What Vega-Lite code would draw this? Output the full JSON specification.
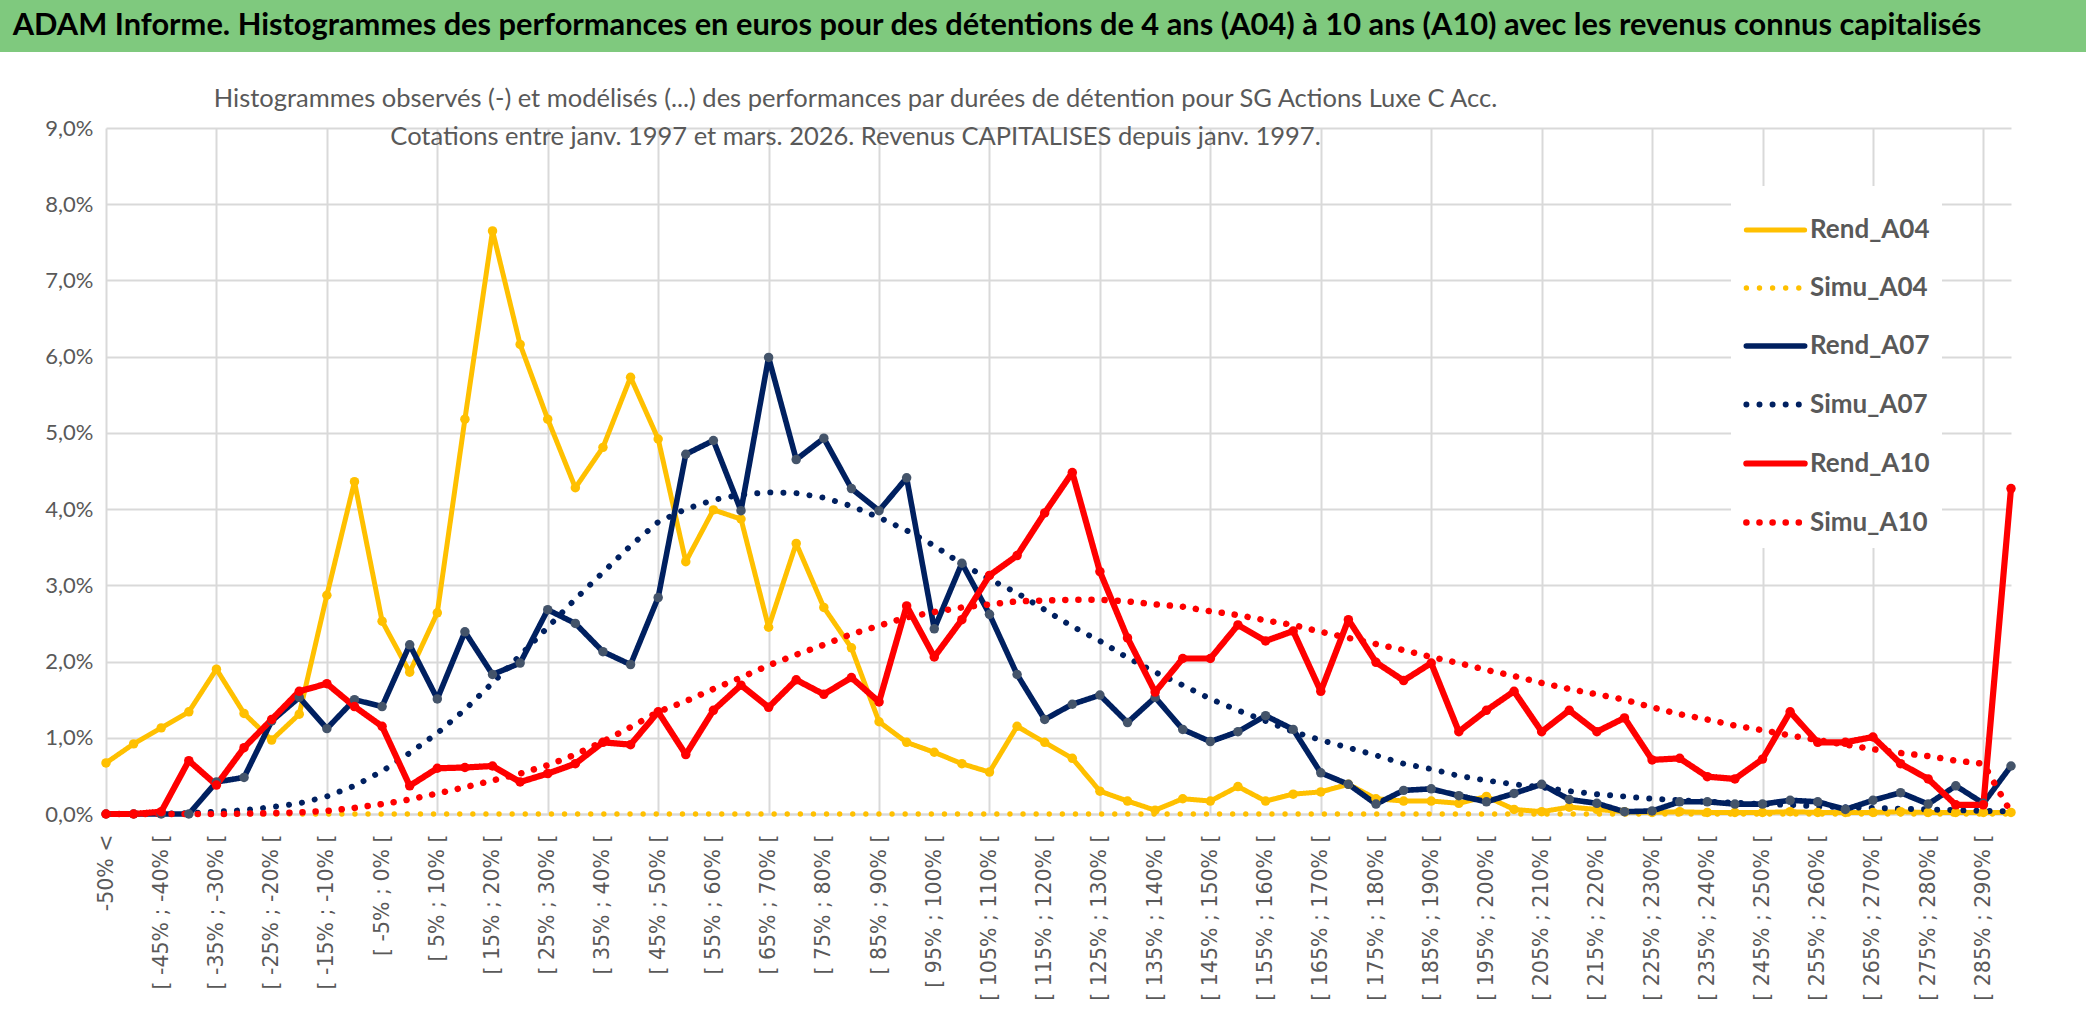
{
  "$schema": "https://vega.github.io/schema/vega-lite/v6.json",
  "background": "white",
  "padding": 0,
  "spacing": 34,
  "config": {"view": {"stroke": null}},
  "vconcat": [
    {
      "width": 1980,
      "height": 52,
      "data": {"values": [{"titre": "ADAM Informe. Histogrammes des performances en euros pour des détentions de 4 ans (A04) à 10 ans (A10) avec les revenus connus capitalisés"}]},
      "layer": [
        {"mark": {"type": "rect", "color": "#7FC97E"}, "encoding": {"x": {"value": -106}, "x2": {"value": 1980}, "y": {"value": 0}, "y2": {"value": 52}}},
        {"mark": {"type": "text", "font": "Lato", "fontWeight": "bold", "fontSize": 30.8, "color": "#000000", "dx": -99}, "encoding": {"text": {"field": "titre"}}}
      ]
    },
    {
      "width": 1905,
      "height": 686,
      "title": {
        "text": ["Histogrammes observés (-) et modélisés (...) des performances par durées de détention pour SG Actions Luxe C Acc.", "Cotations entre janv. 1997 et mars. 2026. Revenus CAPITALISES depuis janv. 1997."],
        "font": "Lato", "fontSize": 25.5, "fontWeight": "normal", "color": "#595959",
        "lineHeight": 38, "anchor": "middle", "frame": "group", "dx": -203, "offset": -33
      },
      "data": {"values": [
        {"cat": "-50% <", "Rend_A04": 0.67, "Simu_A04": 0, "Rend_A07": 0, "Simu_A07": 0, "Rend_A10": 0, "Simu_A10": 0},
        {"cat": "[ -50% ; -45% [", "Rend_A04": 0.92, "Simu_A04": 0, "Rend_A07": 0, "Simu_A07": 0, "Rend_A10": 0, "Simu_A10": 0},
        {"cat": "[ -45% ; -40% [", "Rend_A04": 1.13, "Simu_A04": 0, "Rend_A07": 0, "Simu_A07": 0.005, "Rend_A10": 0.03, "Simu_A10": 0},
        {"cat": "[ -40% ; -35% [", "Rend_A04": 1.34, "Simu_A04": 0, "Rend_A07": 0, "Simu_A07": 0.01, "Rend_A10": 0.70, "Simu_A10": 0},
        {"cat": "[ -35% ; -30% [", "Rend_A04": 1.90, "Simu_A04": 0, "Rend_A07": 0.42, "Simu_A07": 0.03, "Rend_A10": 0.38, "Simu_A10": 0},
        {"cat": "[ -30% ; -25% [", "Rend_A04": 1.32, "Simu_A04": 0, "Rend_A07": 0.48, "Simu_A07": 0.05, "Rend_A10": 0.87, "Simu_A10": 0.005},
        {"cat": "[ -25% ; -20% [", "Rend_A04": 0.97, "Simu_A04": 0, "Rend_A07": 1.22, "Simu_A07": 0.09, "Rend_A10": 1.24, "Simu_A10": 0.01},
        {"cat": "[ -20% ; -15% [", "Rend_A04": 1.31, "Simu_A04": 0, "Rend_A07": 1.53, "Simu_A07": 0.14, "Rend_A10": 1.61, "Simu_A10": 0.02},
        {"cat": "[ -15% ; -10% [", "Rend_A04": 2.87, "Simu_A04": 0, "Rend_A07": 1.12, "Simu_A07": 0.23, "Rend_A10": 1.71, "Simu_A10": 0.04},
        {"cat": "[ -10% ; -5% [", "Rend_A04": 4.36, "Simu_A04": 0, "Rend_A07": 1.50, "Simu_A07": 0.37, "Rend_A10": 1.41, "Simu_A10": 0.08},
        {"cat": "[ -5% ; 0% [", "Rend_A04": 2.53, "Simu_A04": 0, "Rend_A07": 1.41, "Simu_A07": 0.56, "Rend_A10": 1.15, "Simu_A10": 0.13},
        {"cat": "[ 0% ; 5% [", "Rend_A04": 1.86, "Simu_A04": 0, "Rend_A07": 2.22, "Simu_A07": 0.80, "Rend_A10": 0.37, "Simu_A10": 0.19},
        {"cat": "[ 5% ; 10% [", "Rend_A04": 2.64, "Simu_A04": 0, "Rend_A07": 1.51, "Simu_A07": 1.06, "Rend_A10": 0.60, "Simu_A10": 0.27},
        {"cat": "[ 10% ; 15% [", "Rend_A04": 5.18, "Simu_A04": 0, "Rend_A07": 2.39, "Simu_A07": 1.37, "Rend_A10": 0.61, "Simu_A10": 0.35},
        {"cat": "[ 15% ; 20% [", "Rend_A04": 7.65, "Simu_A04": 0, "Rend_A07": 1.83, "Simu_A07": 1.72, "Rend_A10": 0.63, "Simu_A10": 0.44},
        {"cat": "[ 20% ; 25% [", "Rend_A04": 6.16, "Simu_A04": 0, "Rend_A07": 1.98, "Simu_A07": 2.08, "Rend_A10": 0.42, "Simu_A10": 0.53},
        {"cat": "[ 25% ; 30% [", "Rend_A04": 5.18, "Simu_A04": 0, "Rend_A07": 2.68, "Simu_A07": 2.45, "Rend_A10": 0.53, "Simu_A10": 0.64},
        {"cat": "[ 30% ; 35% [", "Rend_A04": 4.28, "Simu_A04": 0, "Rend_A07": 2.50, "Simu_A07": 2.82, "Rend_A10": 0.66, "Simu_A10": 0.78},
        {"cat": "[ 35% ; 40% [", "Rend_A04": 4.81, "Simu_A04": 0, "Rend_A07": 2.13, "Simu_A07": 3.17, "Rend_A10": 0.94, "Simu_A10": 0.95},
        {"cat": "[ 40% ; 45% [", "Rend_A04": 5.73, "Simu_A04": 0, "Rend_A07": 1.96, "Simu_A07": 3.52, "Rend_A10": 0.91, "Simu_A10": 1.14},
        {"cat": "[ 45% ; 50% [", "Rend_A04": 4.92, "Simu_A04": 0, "Rend_A07": 2.84, "Simu_A07": 3.83, "Rend_A10": 1.34, "Simu_A10": 1.34},
        {"cat": "[ 50% ; 55% [", "Rend_A04": 3.31, "Simu_A04": 0, "Rend_A07": 4.72, "Simu_A07": 4.00, "Rend_A10": 0.78, "Simu_A10": 1.48},
        {"cat": "[ 55% ; 60% [", "Rend_A04": 3.99, "Simu_A04": 0, "Rend_A07": 4.90, "Simu_A07": 4.12, "Rend_A10": 1.36, "Simu_A10": 1.64},
        {"cat": "[ 60% ; 65% [", "Rend_A04": 3.87, "Simu_A04": 0, "Rend_A07": 3.98, "Simu_A07": 4.19, "Rend_A10": 1.69, "Simu_A10": 1.79},
        {"cat": "[ 65% ; 70% [", "Rend_A04": 2.45, "Simu_A04": 0, "Rend_A07": 5.99, "Simu_A07": 4.22, "Rend_A10": 1.40, "Simu_A10": 1.95},
        {"cat": "[ 70% ; 75% [", "Rend_A04": 3.55, "Simu_A04": 0, "Rend_A07": 4.65, "Simu_A07": 4.21, "Rend_A10": 1.76, "Simu_A10": 2.09},
        {"cat": "[ 75% ; 80% [", "Rend_A04": 2.71, "Simu_A04": 0, "Rend_A07": 4.93, "Simu_A07": 4.15, "Rend_A10": 1.57, "Simu_A10": 2.22},
        {"cat": "[ 80% ; 85% [", "Rend_A04": 2.18, "Simu_A04": 0, "Rend_A07": 4.27, "Simu_A07": 4.04, "Rend_A10": 1.79, "Simu_A10": 2.36},
        {"cat": "[ 85% ; 90% [", "Rend_A04": 1.21, "Simu_A04": 0, "Rend_A07": 3.98, "Simu_A07": 3.89, "Rend_A10": 1.47, "Simu_A10": 2.47},
        {"cat": "[ 90% ; 95% [", "Rend_A04": 0.94, "Simu_A04": 0, "Rend_A07": 4.41, "Simu_A07": 3.72, "Rend_A10": 2.73, "Simu_A10": 2.58},
        {"cat": "[ 95% ; 100% [", "Rend_A04": 0.81, "Simu_A04": 0, "Rend_A07": 2.43, "Simu_A07": 3.52, "Rend_A10": 2.06, "Simu_A10": 2.65},
        {"cat": "[ 100% ; 105% [", "Rend_A04": 0.66, "Simu_A04": 0, "Rend_A07": 3.29, "Simu_A07": 3.28, "Rend_A10": 2.55, "Simu_A10": 2.71},
        {"cat": "[ 105% ; 110% [", "Rend_A04": 0.55, "Simu_A04": 0, "Rend_A07": 2.62, "Simu_A07": 3.08, "Rend_A10": 3.13, "Simu_A10": 2.75},
        {"cat": "[ 110% ; 115% [", "Rend_A04": 1.15, "Simu_A04": 0, "Rend_A07": 1.83, "Simu_A07": 2.90, "Rend_A10": 3.39, "Simu_A10": 2.79},
        {"cat": "[ 115% ; 120% [", "Rend_A04": 0.94, "Simu_A04": 0, "Rend_A07": 1.24, "Simu_A07": 2.68, "Rend_A10": 3.95, "Simu_A10": 2.80},
        {"cat": "[ 120% ; 125% [", "Rend_A04": 0.73, "Simu_A04": 0, "Rend_A07": 1.44, "Simu_A07": 2.46, "Rend_A10": 4.48, "Simu_A10": 2.81},
        {"cat": "[ 125% ; 130% [", "Rend_A04": 0.30, "Simu_A04": 0, "Rend_A07": 1.56, "Simu_A07": 2.27, "Rend_A10": 3.18, "Simu_A10": 2.81},
        {"cat": "[ 130% ; 135% [", "Rend_A04": 0.17, "Simu_A04": 0, "Rend_A07": 1.20, "Simu_A07": 2.05, "Rend_A10": 2.31, "Simu_A10": 2.79},
        {"cat": "[ 135% ; 140% [", "Rend_A04": 0.05, "Simu_A04": 0, "Rend_A07": 1.53, "Simu_A07": 1.86, "Rend_A10": 1.60, "Simu_A10": 2.75},
        {"cat": "[ 140% ; 145% [", "Rend_A04": 0.20, "Simu_A04": 0, "Rend_A07": 1.11, "Simu_A07": 1.69, "Rend_A10": 2.04, "Simu_A10": 2.72},
        {"cat": "[ 145% ; 150% [", "Rend_A04": 0.17, "Simu_A04": 0, "Rend_A07": 0.95, "Simu_A07": 1.51, "Rend_A10": 2.04, "Simu_A10": 2.66},
        {"cat": "[ 150% ; 155% [", "Rend_A04": 0.36, "Simu_A04": 0, "Rend_A07": 1.08, "Simu_A07": 1.36, "Rend_A10": 2.48, "Simu_A10": 2.61},
        {"cat": "[ 155% ; 160% [", "Rend_A04": 0.17, "Simu_A04": 0, "Rend_A07": 1.29, "Simu_A07": 1.22, "Rend_A10": 2.27, "Simu_A10": 2.54},
        {"cat": "[ 160% ; 165% [", "Rend_A04": 0.26, "Simu_A04": 0, "Rend_A07": 1.11, "Simu_A07": 1.08, "Rend_A10": 2.40, "Simu_A10": 2.48},
        {"cat": "[ 165% ; 170% [", "Rend_A04": 0.29, "Simu_A04": 0, "Rend_A07": 0.54, "Simu_A07": 0.97, "Rend_A10": 1.61, "Simu_A10": 2.39},
        {"cat": "[ 170% ; 175% [", "Rend_A04": 0.39, "Simu_A04": 0, "Rend_A07": 0.39, "Simu_A07": 0.87, "Rend_A10": 2.55, "Simu_A10": 2.31},
        {"cat": "[ 175% ; 180% [", "Rend_A04": 0.20, "Simu_A04": 0, "Rend_A07": 0.13, "Simu_A07": 0.77, "Rend_A10": 1.99, "Simu_A10": 2.23},
        {"cat": "[ 180% ; 185% [", "Rend_A04": 0.17, "Simu_A04": 0, "Rend_A07": 0.31, "Simu_A07": 0.66, "Rend_A10": 1.75, "Simu_A10": 2.15},
        {"cat": "[ 185% ; 190% [", "Rend_A04": 0.17, "Simu_A04": 0, "Rend_A07": 0.33, "Simu_A07": 0.59, "Rend_A10": 1.98, "Simu_A10": 2.06},
        {"cat": "[ 190% ; 195% [", "Rend_A04": 0.14, "Simu_A04": 0, "Rend_A07": 0.24, "Simu_A07": 0.50, "Rend_A10": 1.08, "Simu_A10": 1.98},
        {"cat": "[ 195% ; 200% [", "Rend_A04": 0.23, "Simu_A04": 0, "Rend_A07": 0.16, "Simu_A07": 0.44, "Rend_A10": 1.36, "Simu_A10": 1.89},
        {"cat": "[ 200% ; 205% [", "Rend_A04": 0.06, "Simu_A04": 0, "Rend_A07": 0.27, "Simu_A07": 0.39, "Rend_A10": 1.61, "Simu_A10": 1.81},
        {"cat": "[ 205% ; 210% [", "Rend_A04": 0.03, "Simu_A04": 0, "Rend_A07": 0.39, "Simu_A07": 0.35, "Rend_A10": 1.08, "Simu_A10": 1.72},
        {"cat": "[ 210% ; 215% [", "Rend_A04": 0.09, "Simu_A04": 0, "Rend_A07": 0.19, "Simu_A07": 0.30, "Rend_A10": 1.36, "Simu_A10": 1.64},
        {"cat": "[ 215% ; 220% [", "Rend_A04": 0.06, "Simu_A04": 0, "Rend_A07": 0.14, "Simu_A07": 0.26, "Rend_A10": 1.08, "Simu_A10": 1.57},
        {"cat": "[ 220% ; 225% [", "Rend_A04": 0.03, "Simu_A04": 0, "Rend_A07": 0.03, "Simu_A07": 0.23, "Rend_A10": 1.26, "Simu_A10": 1.50},
        {"cat": "[ 225% ; 230% [", "Rend_A04": 0.02, "Simu_A04": 0, "Rend_A07": 0.04, "Simu_A07": 0.20, "Rend_A10": 0.71, "Simu_A10": 1.40},
        {"cat": "[ 230% ; 235% [", "Rend_A04": 0.03, "Simu_A04": 0, "Rend_A07": 0.16, "Simu_A07": 0.18, "Rend_A10": 0.73, "Simu_A10": 1.31},
        {"cat": "[ 235% ; 240% [", "Rend_A04": 0.02, "Simu_A04": 0, "Rend_A07": 0.16, "Simu_A07": 0.16, "Rend_A10": 0.49, "Simu_A10": 1.24},
        {"cat": "[ 240% ; 245% [", "Rend_A04": 0.02, "Simu_A04": 0, "Rend_A07": 0.13, "Simu_A07": 0.15, "Rend_A10": 0.46, "Simu_A10": 1.16},
        {"cat": "[ 245% ; 250% [", "Rend_A04": 0.02, "Simu_A04": 0, "Rend_A07": 0.13, "Simu_A07": 0.13, "Rend_A10": 0.72, "Simu_A10": 1.10},
        {"cat": "[ 250% ; 255% [", "Rend_A04": 0.03, "Simu_A04": 0, "Rend_A07": 0.18, "Simu_A07": 0.12, "Rend_A10": 1.34, "Simu_A10": 1.03},
        {"cat": "[ 255% ; 260% [", "Rend_A04": 0.02, "Simu_A04": 0, "Rend_A07": 0.16, "Simu_A07": 0.10, "Rend_A10": 0.94, "Simu_A10": 0.97},
        {"cat": "[ 260% ; 265% [", "Rend_A04": 0.02, "Simu_A04": 0, "Rend_A07": 0.06, "Simu_A07": 0.09, "Rend_A10": 0.94, "Simu_A10": 0.91},
        {"cat": "[ 265% ; 270% [", "Rend_A04": 0.02, "Simu_A04": 0, "Rend_A07": 0.18, "Simu_A07": 0.08, "Rend_A10": 1.01, "Simu_A10": 0.85},
        {"cat": "[ 270% ; 275% [", "Rend_A04": 0.03, "Simu_A04": 0, "Rend_A07": 0.28, "Simu_A07": 0.07, "Rend_A10": 0.66, "Simu_A10": 0.80},
        {"cat": "[ 275% ; 280% [", "Rend_A04": 0.02, "Simu_A04": 0, "Rend_A07": 0.13, "Simu_A07": 0.06, "Rend_A10": 0.46, "Simu_A10": 0.76},
        {"cat": "[ 280% ; 285% [", "Rend_A04": 0.02, "Simu_A04": 0, "Rend_A07": 0.37, "Simu_A07": 0.05, "Rend_A10": 0.12, "Simu_A10": 0.70},
        {"cat": "[ 285% ; 290% [", "Rend_A04": 0.02, "Simu_A04": 0, "Rend_A07": 0.14, "Simu_A07": 0.04, "Rend_A10": 0.12, "Simu_A10": 0.66},
        {"cat": "290% >", "Rend_A04": 0.02, "Simu_A04": 0, "Rend_A07": 0.63, "Simu_A07": 0.035, "Rend_A10": 4.27, "Simu_A10": 0.02}
      ]},
      "transform": [{"fold": ["Rend_A04", "Simu_A04", "Rend_A07", "Simu_A07", "Rend_A10", "Simu_A10"], "as": ["serie", "v"]}],
      "encoding": {
        "x": {
          "field": "cat", "type": "ordinal", "sort": null,
          "scale": {"type": "point", "padding": 0},
          "axis": {
            "title": null,
            "values": ["-50% <", "[ -45% ; -40% [", "[ -35% ; -30% [", "[ -25% ; -20% [", "[ -15% ; -10% [", "[ -5% ; 0% [", "[ 5% ; 10% [", "[ 15% ; 20% [", "[ 25% ; 30% [", "[ 35% ; 40% [", "[ 45% ; 50% [", "[ 55% ; 60% [", "[ 65% ; 70% [", "[ 75% ; 80% [", "[ 85% ; 90% [", "[ 95% ; 100% [", "[ 105% ; 110% [", "[ 115% ; 120% [", "[ 125% ; 130% [", "[ 135% ; 140% [", "[ 145% ; 150% [", "[ 155% ; 160% [", "[ 165% ; 170% [", "[ 175% ; 180% [", "[ 185% ; 190% [", "[ 195% ; 200% [", "[ 205% ; 210% [", "[ 215% ; 220% [", "[ 225% ; 230% [", "[ 235% ; 240% [", "[ 245% ; 250% [", "[ 255% ; 260% [", "[ 265% ; 270% [", "[ 275% ; 280% [", "[ 285% ; 290% ["],
            "labelAngle": 270, "labelFont": "DejaVu Sans", "labelFontSize": 20.5, "labelColor": "#595959",
            "labelPadding": 20, "labelOverlap": false, "labelLimit": 400, "ticks": false,
            "domain": true, "domainColor": "#D9D9D9", "domainWidth": 2,
            "grid": true, "gridColor": "#D9D9D9", "gridWidth": 2,
            "gridOpacity": {"condition": {"test": "round(datum.index * 34) % 2 === 0", "value": 1}, "value": 0}
          }
        },
        "y": {
          "field": "v", "type": "quantitative",
          "scale": {"domain": [0, 9], "nice": false},
          "axis": {
            "title": "%", "titleColor": "white", "titleFontSize": 10, "titlePadding": 36,
            "values": [0, 1, 2, 3, 4, 5, 6, 7, 8, 9],
            "labelExpr": "replace(format(datum.value, '.1f'), '.', ',') + '%'",
            "labelFont": "Lato", "labelFontSize": 22, "labelColor": "#595959",
            "labelPadding": 13, "ticks": false, "domain": false,
            "grid": true, "gridColor": "#D9D9D9", "gridWidth": 2,
            "minExtent": 60, "maxExtent": 60
          }
        }
      },
      "layer": [
        {
          "mark": {"type": "line", "strokeCap": "round", "strokeJoin": "round"},
          "encoding": {
            "stroke": {
              "field": "serie", "type": "nominal",
              "scale": {"domain": ["Rend_A04", "Simu_A04", "Rend_A07", "Simu_A07", "Rend_A10", "Simu_A10"], "range": ["#FFC000", "#FFC000", "#002060", "#002060", "#FF0000", "#FF0000"]},
              "legend": {
                "title": null, "orient": "none", "legendX": 1625, "legendY": 186,
                "symbolType": "stroke", "symbolSize": 3400,
                "labelFont": "Lato", "labelFontWeight": "bold", "labelFontSize": 26, "labelColor": "#595959",
                "labelLimit": 400, "rowPadding": 13, "padding": 12, "fillColor": "white", "labelOffset": 2,
                "encode": {"symbols": {"update": {"strokeCap": {"value": "round"}}}}
              }
            },
            "strokeDash": {
              "field": "serie", "type": "nominal",
              "scale": {"domain": ["Rend_A04", "Simu_A04", "Rend_A07", "Simu_A07", "Rend_A10", "Simu_A10"], "range": [[1, 0], [0.1, 13], [1, 0], [0.1, 13], [1, 0], [0.1, 13]]},
              "legend": {
                "title": null, "orient": "none", "legendX": 1625, "legendY": 186,
                "symbolType": "stroke", "symbolSize": 3400,
                "labelFont": "Lato", "labelFontWeight": "bold", "labelFontSize": 26, "labelColor": "#595959",
                "labelLimit": 400, "rowPadding": 13, "padding": 12, "fillColor": "white", "labelOffset": 2,
                "encode": {"symbols": {"update": {"strokeCap": {"value": "round"}}}}
              }
            },
            "strokeWidth": {
              "field": "serie", "type": "nominal",
              "scale": {"domain": ["Rend_A04", "Simu_A04", "Rend_A07", "Simu_A07", "Rend_A10", "Simu_A10"], "range": [5, 6.5, 5, 6.5, 5, 6.5]},
              "legend": {
                "title": null, "orient": "none", "legendX": 1625, "legendY": 186,
                "symbolType": "stroke", "symbolSize": 3400,
                "labelFont": "Lato", "labelFontWeight": "bold", "labelFontSize": 26, "labelColor": "#595959",
                "labelLimit": 400, "rowPadding": 13, "padding": 12, "fillColor": "white", "labelOffset": 2,
                "encode": {"symbols": {"update": {"strokeCap": {"value": "round"}}}}
              }
            }
          }
        },
        {
          "transform": [{"filter": {"field": "serie", "oneOf": ["Rend_A04", "Rend_A07", "Rend_A10"]}}],
          "mark": {"type": "point", "filled": true, "size": 90, "opacity": 1},
          "encoding": {
            "fill": {
              "field": "serie", "type": "nominal",
              "scale": {"domain": ["Rend_A04", "Rend_A07", "Rend_A10"], "range": ["#FFC000", "#44546A", "#FF0000"]},
              "legend": null
            }
          }
        }
      ]
    }
  ]
}
